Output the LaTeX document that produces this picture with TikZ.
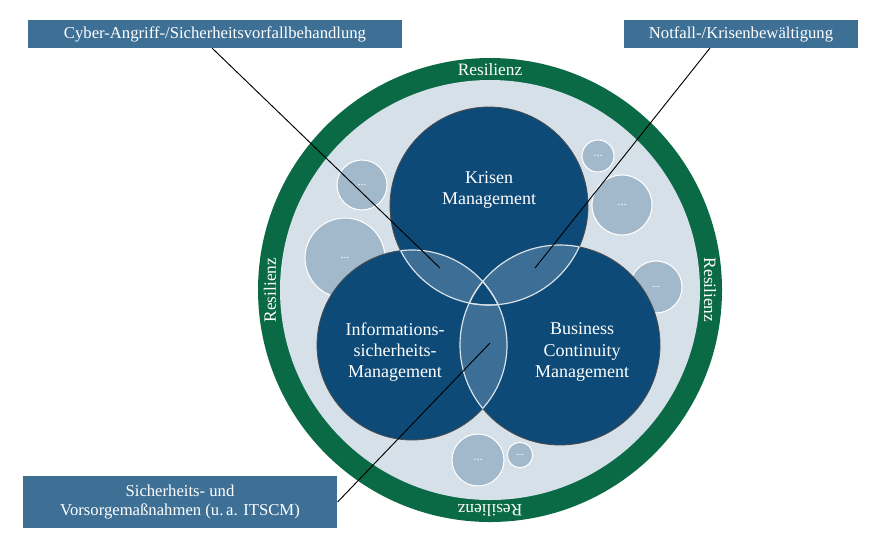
\documentclass[tikz,border=0pt]{standalone}
\usepackage{fontspec}
\setmainfont{Liberation Serif}
\begin{document}
\begin{tikzpicture}[x=0.75pt,y=-0.75pt,
  dark/.style={fill=cDark,draw=black!70,line width=0.6pt},
  small/.style={circle,fill=cSmall,draw=white,line width=0.8pt,text=white,font=\small,inner sep=0pt},
  lab/.style={fill=cBox,text=white,font=\fontsize{12.5}{14}\selectfont,inner sep=2pt,align=center},
  ring/.style={text=white,font=\fontsize{13}{15}\selectfont},
  vtxt/.style={text=white,font=\fontsize{13.5}{16}\selectfont,align=center}]
\definecolor{cDark}{HTML}{0D4A77}
\definecolor{cLens}{HTML}{3D6F96}
\definecolor{cGreen}{HTML}{0B6A46}
\definecolor{cLight}{HTML}{D5E0E8}
\definecolor{cSmall}{HTML}{A2B8CB}
\definecolor{cBox}{HTML}{3E7096}
\useasboundingbox (0,0) rectangle (880,540);
\fill[white] (0,0) rectangle (880,540);
\fill[cGreen] (490,290) circle (232);
\fill[cLight] (490,290) circle (210);
% small circles
\node[small,minimum size=37.5pt] (s1) at (362,185) {...};
\node[small,minimum size=60pt] (s2) at (345,258) {...};
\node[small,minimum size=24pt] (s3) at (598,156) {...};
\node[small,minimum size=45pt] (s4) at (622,205) {...};
\node[small,minimum size=39pt] (s5) at (656,287) {...};
\node[small,minimum size=39pt] (s6) at (478,460) {...};
\node[small,minimum size=19pt] (s7) at (520,455) {...};
% main circles
\draw[dark] (489,206) circle (99);
\draw[dark] (412,345) circle (95);
\draw[dark] (560,345) circle (100);
\begin{scope}
\clip (489,206) circle (99);
\fill[cLens] (412,345) circle (95);
\fill[cLens] (560,345) circle (100);
\end{scope}
\begin{scope}
\clip (412,345) circle (95);
\fill[cLens] (560,345) circle (100);
\clip (560,345) circle (100);
\fill[cDark] (489,206) circle (99);
\end{scope}
\begin{scope}
\clip (489,206) circle (99);
\draw[white!80!cLens,line width=0.9pt] (412,345) circle (95);
\draw[white!80!cLens,line width=0.9pt] (560,345) circle (100);
\end{scope}
\begin{scope}
\clip (412,345) circle (95);
\draw[white!80!cLens,line width=0.9pt] (489,206) circle (99);
\draw[white!80!cLens,line width=0.9pt] (560,345) circle (100);
\end{scope}
\begin{scope}
\clip (560,345) circle (100);
\draw[white!80!cLens,line width=0.9pt] (489,206) circle (99);
\draw[white!80!cLens,line width=0.9pt] (412,345) circle (95);
\end{scope}
\node[vtxt] (k) at (489,190) {Krisen\\Management};
\node[vtxt] (i) at (395,352) {Informations-\\sicherheits-\\Management};
\node[vtxt] (b) at (582,352) {Business\\Continuity\\Management};
% ring labels
\node[ring] (r1) at (490,70) {Resilienz};
\node[ring,rotate=90] (r2) at (270,290) {Resilienz};
\node[ring,rotate=-90] (r3) at (710,290) {Resilienz};
\node[ring,rotate=180] (r4) at (490,510) {Resilienz};
% label boxes
\node[lab,minimum width=280.5pt,minimum height=21pt] (l1) at (215,34) {Cyber-Angriff-/Sicherheitsvorfallbehandlung};
\node[lab,minimum width=175pt,minimum height=21pt] (l2) at (741,34) {Notfall-/Krisenbewältigung};
\node[lab,minimum width=236pt,minimum height=39pt] (l3) at (180,502) {Sicherheits- und\\Vorsorgemaßnahmen (u.\,a. ITSCM)};
\coordinate (p1) at (440,268);
\coordinate (p2) at (535,268);
\coordinate (p3) at (490,343);
\draw[black,line width=0.7pt] (212,48) -- (p1);
\draw[black,line width=0.7pt] (710,48) -- (p2);
\draw[black,line width=0.7pt] (l3.east) -- (p3);
\end{tikzpicture}
\end{document}
